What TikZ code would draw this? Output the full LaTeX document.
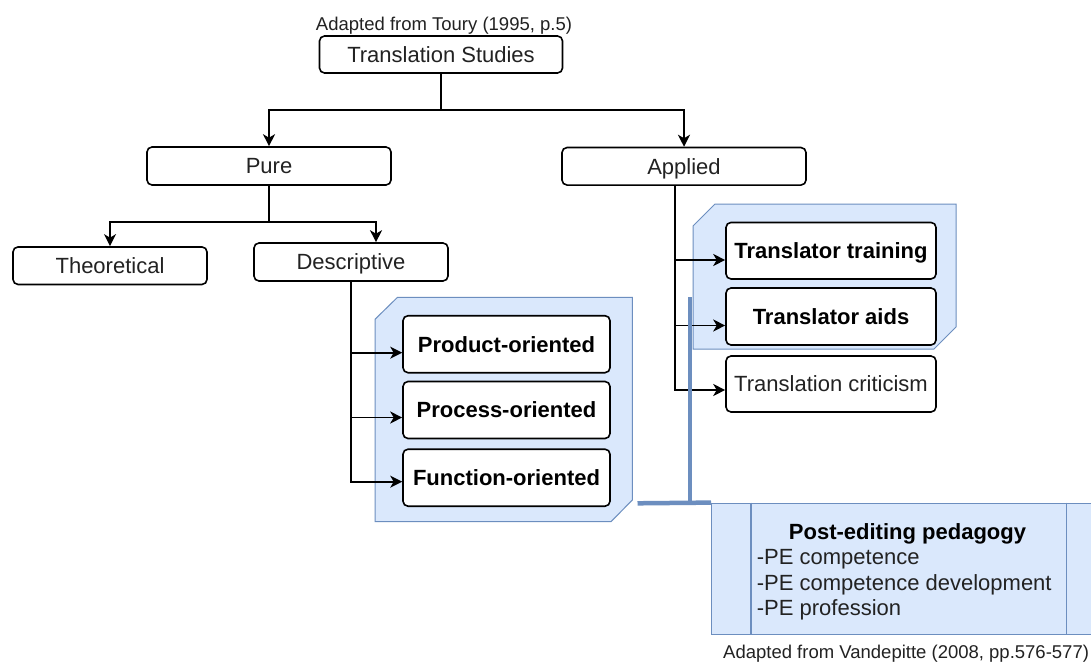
\documentclass[tikz,border=0pt]{standalone}
\usepackage{fontspec}
\setmainfont{Liberation Sans}
\usetikzlibrary{arrows.meta}
\definecolor{panelfill}{HTML}{DAE8FC}
\definecolor{panelline}{HTML}{6C8EBF}
\definecolor{ink}{HTML}{222222}

\begin{document}
\begin{tikzpicture}[x=1pt,y=-1pt,
  box/.style={draw=black, line width=1.6pt, rounded corners=5pt, fill=white,
    inner sep=0pt, text height=15.75pt, text depth=0pt,
    font=\fontsize{22}{26}\selectfont, text=ink},
  boldbox/.style={box, font=\fontsize{22}{26}\selectfont\bfseries, text=black},
  link/.style={line width=1.7pt, draw=black},
  arr/.style={link, -{Stealth[length=12pt,width=12pt,inset=3.5pt]}},
  panel/.style={fill=panelfill, draw=panelline, line width=1pt},
  bar/.style={draw=panelline, line width=4.5pt},
  pebox/.style={fill=panelfill, draw=panelline, line width=1.4pt, inner sep=0pt},
  petext/.style={inner sep=0pt, font=\fontsize{22}{25.5}\selectfont, text=ink},
  note/.style={inner sep=0pt, font=\fontsize{18.5}{22}\selectfont, text=ink},
]
\clip (0,0) rectangle (1091,663);
\fill[white] (0,0) rectangle (1091,663);

% chamfered background panels
\draw[panel] (375,319.3) -- (397.5,297.3) -- (632.3,297.3) -- (632.3,500)
  -- (611,521.7) -- (375,521.7) -- cycle;
\draw[panel] (693,226) -- (715,204) -- (956,204) -- (956,327)
  -- (934,349) -- (693,349) -- cycle;

% header
\node[note, anchor=base] (toury) at (444,31) {Adapted from Toury (1995, p.5)};
\node[box, minimum width=243pt, minimum height=37pt] (ts) at (441,54.5) {Translation Studies};

% second level
\node[box, minimum width=244pt, minimum height=38pt] (pure) at (269,166) {Pure};
\node[box, minimum width=244pt, minimum height=37.5pt] (applied) at (684,166.3) {Applied};

% third level (pure branch)
\node[box, minimum width=194pt, minimum height=37.5pt] (theo) at (110,265.7) {Theoretical};
\node[box, minimum width=194pt, minimum height=38pt] (desc) at (351,262) {Descriptive};

% descriptive branch
\node[boldbox, minimum width=207pt, minimum height=57pt] (prod) at (506.5,344.2) {Product-oriented};
\node[boldbox, minimum width=207pt, minimum height=57pt] (proc) at (506.5,410) {Process-oriented};
\node[boldbox, minimum width=207pt, minimum height=57pt] (func) at (506.5,477.7) {Function-oriented};

% applied branch
\node[boldbox, minimum width=210pt, minimum height=56.5pt] (tt) at (831,250.7) {Translator training};
\node[boldbox, minimum width=210pt, minimum height=57pt] (ta) at (831,316.5) {Translator aids};
\node[box, minimum width=210pt, minimum height=56pt] (tc) at (831,384) {Translation criticism};

% connectors
\coordinate (j1) at (441,110);
\coordinate (j2) at (269,222);
\draw[link] (ts.south) -- (j1);
\draw[arr] (j1) -| (pure.north);
\draw[arr] (j1) -| (applied.north);
\draw[link] (pure.south) -- (j2);
\draw[arr] (j2) -| (theo.north);
\draw[arr] (j2) -| ([xshift=25pt]desc.north);

\draw[arr] (desc.south) |- (prod.west |- 0,352.7);
\draw[arr] (desc.south) |- (proc.west |- 0,417.5);
\draw[arr] (desc.south) |- (func.west |- 0,481.7);

\draw[arr] ([xshift=-9pt]applied.south) |- (tt.west |- 0,260);
\draw[arr] ([xshift=-9pt]applied.south) |- (ta.west |- 0,325.5);
\draw[arr] ([xshift=-9pt]applied.south) |- (tc.west |- 0,390);

% post-editing pedagogy box
\node[pebox, minimum width=394pt, minimum height=131pt] (pe) at (908.7,568.8) {};
\draw[panelline, line width=1.4pt] ([xshift=40pt]pe.north west) -- ([xshift=40pt]pe.south west);
\draw[panelline, line width=1.4pt] ([xshift=-40pt]pe.north east) -- ([xshift=-40pt]pe.south east);
\node[petext, font=\fontsize{22}{25.5}\selectfont\bfseries, text=black, anchor=base] (pet) at (907.5,539.5) {Post-editing pedagogy};
\node[petext, anchor=base west] (pe1) at (756.7,564.5) {-PE competence};
\node[petext, anchor=base west] (pe2) at (756.7,590) {-PE competence development};
\node[petext, anchor=base west] (pe3) at (756.7,615.3) {-PE profession};

% bracket joining the panels to the post-editing box
\coordinate (bartop) at (690,297);
\coordinate (barleft) at (637.5,503.3);
\draw[bar] (bartop) -- (bartop |- pe.north west);
\draw[bar] (barleft) -- (pe.north west);

\node[note, anchor=base west] (vand) at (723,658.5) {Adapted from Vandepitte (2008, pp.576-577)};
\end{tikzpicture}
\end{document}
